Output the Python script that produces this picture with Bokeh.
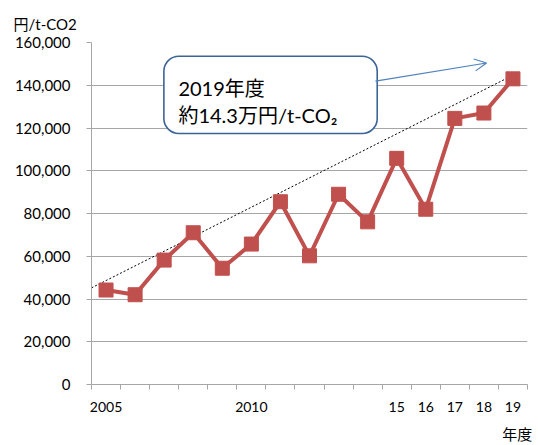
from bokeh.plotting import figure
from bokeh.models import (FixedTicker, NumeralTickFormatter, Label, BoxAnnotation,
                          Arrow, OpenHead, LinearAxis)
from bokeh.embed import file_html
from bokeh.resources import INLINE

# ---- data ----
years = [2005, 2006, 2007, 2008, 2009, 2010, 2011, 2012, 2013, 2014,
         2015, 2016, 2017, 2018, 2019]
price = [44200, 42000, 58200, 71000, 54400, 65700, 85500, 60200, 89000, 76100,
         105800, 82000, 124500, 127000, 143000]
tick_label_pos = [1, 6, 11, 12, 13, 14, 15]
tick_labels = ["2005", "2010", "15", "16", "17", "18", "19"]
y_ticks = [0, 20000, 40000, 60000, 80000, 100000, 120000, 140000, 160000]
trend_x = [0.5, 15.0]
trend_y = [45200, 144700]
y_title = "円/t-CO2"
x_title = "年度"
note_line1 = "2019年度"
note_line2 = "約14.3万円/t-CO₂"

FONT = "Lato, 'Noto Sans CJK JP'"
RED = "#C0504D"
GRID = "#a6a6a6"

idx = list(range(1, len(years) + 1))

p = figure(width=538, height=445, x_range=(0.5, 15.5), y_range=(0, 160000),
           output_backend="svg", toolbar_location=None,
           min_border_left=91, min_border_right=11, min_border_top=42,
           min_border_bottom=60)
p.outline_line_color = None
p.background_fill_color = "white"
p.border_fill_color = "white"

# y title as the figure title
p.title.text = y_title
p.title.align = "left"
p.title.offset = -78
p.title.standoff = 20
p.title.text_font = FONT
p.title.text_font_size = "15px"
p.title.text_font_style = "normal"
p.title.text_color = "black"

# y axis
p.yaxis.ticker = FixedTicker(ticks=y_ticks)
p.yaxis.formatter = NumeralTickFormatter(format="0,0")
p.yaxis.axis_line_color = GRID
p.yaxis.major_tick_line_color = GRID
p.yaxis.major_tick_out = 5
p.yaxis.major_tick_in = 0
p.yaxis.minor_tick_line_color = None
p.yaxis.major_label_standoff = 16
p.yaxis.major_label_text_font = FONT
p.yaxis.major_label_text_font_size = "15px"
p.yaxis.major_label_text_color = "black"

# x axis
bounds = [i + 0.5 for i in range(0, 16)]
p.xaxis.ticker = FixedTicker(ticks=tick_label_pos, minor_ticks=bounds)
p.xaxis.major_label_overrides = {k: v for k, v in zip(tick_label_pos, tick_labels)}
p.xaxis.axis_line_color = GRID
p.xaxis.major_tick_line_color = None
p.xaxis.major_tick_out = 5
p.xaxis.major_tick_in = 0
p.xaxis.minor_tick_line_color = GRID
p.xaxis.minor_tick_out = 5
p.xaxis.minor_tick_in = 0
p.xaxis.major_label_standoff = 12
p.xaxis.major_label_text_font = FONT
p.xaxis.major_label_text_font_size = "14px"
p.xaxis.major_label_text_color = "black"

# x title as a second, bare axis below
xt = LinearAxis(ticker=FixedTicker(ticks=[15.15]),
                major_label_overrides={15.15: x_title},
                axis_line_color=None, major_tick_line_color=None,
                minor_tick_line_color=None, major_tick_out=0, major_tick_in=0,
                major_label_standoff=10, major_label_text_font=FONT,
                major_label_text_font_size="15px", major_label_text_color="black")
p.add_layout(xt, "below")

p.xgrid.grid_line_color = None
p.ygrid.ticker = FixedTicker(ticks=y_ticks)
p.ygrid.grid_line_color = GRID
p.ygrid.grid_line_width = 1

# trend (dotted)
p.line(trend_x, trend_y, line_color="black", line_width=1, line_dash="2 2")

# series
p.line(idx, price, line_color=RED, line_width=4)
p.scatter(idx, price, marker="square", size=14, fill_color=RED, line_color=RED)

# annotation box + arrow
box = BoxAnnotation(left=2.99, right=10.33, top=153600, bottom=117400,
                    fill_color="white", fill_alpha=1, line_color="#3C6496",
                    line_alpha=1, line_width=1.6, border_radius=15,
                    level="annotation")
p.add_layout(box)
p.add_layout(Arrow(x_start=10.27, y_start=141900, x_end=14.09, y_end=150400,
                   line_color="#4F81BD", line_width=1.2,
                   end=OpenHead(size=12, line_color="#4F81BD", line_width=1.2)))

p.add_layout(Label(x=3.49, y=138700, text=note_line1, text_font=FONT,
                   text_font_size="20px", text_color="black",
                   text_baseline="alphabetic"))
p.add_layout(Label(x=3.49, y=126000, text=note_line2, text_font=FONT,
                   text_font_size="20px", text_color="black",
                   text_baseline="alphabetic"))

open("out.html", "w").write(file_html(p, INLINE))
